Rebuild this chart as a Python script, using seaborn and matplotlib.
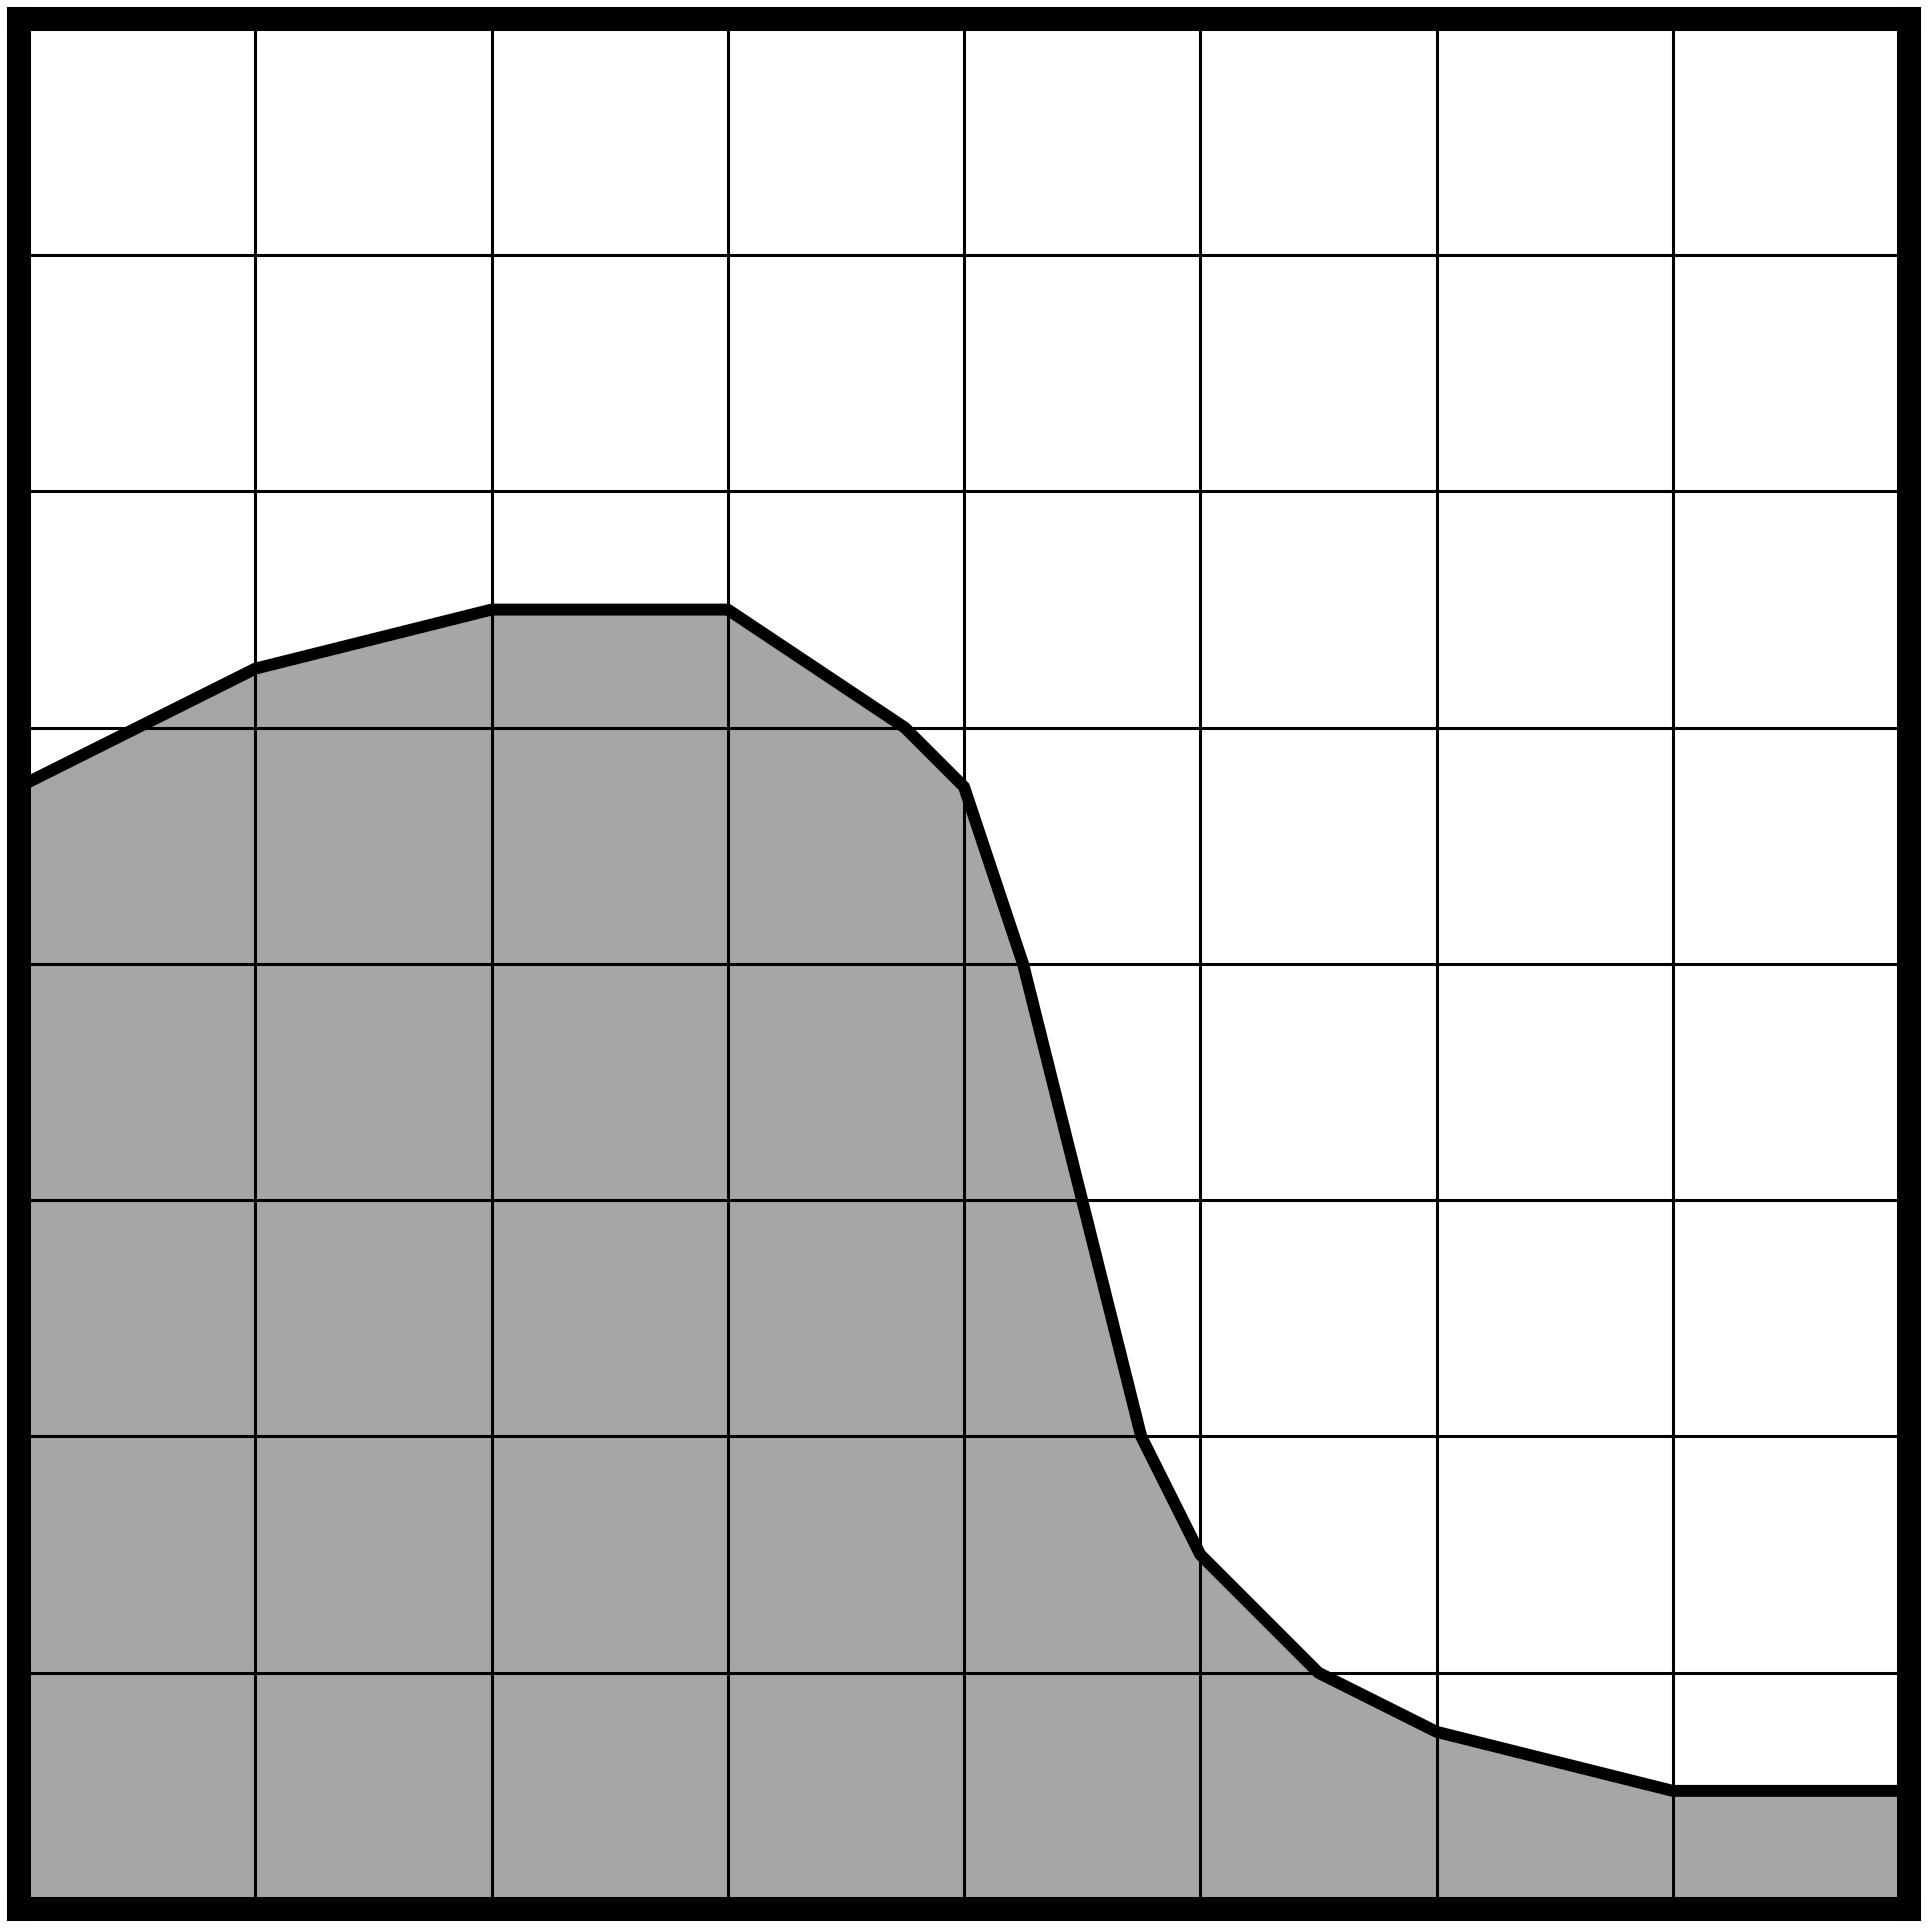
import matplotlib
matplotlib.use('Agg')
import matplotlib.pyplot as plt
import seaborn as sns
import pandas as pd

# points of the outline (8 x 8 cells)
x_vals = [0, 1, 2, 3, 3.75, 4, 4.25, 4.5, 4.75, 5, 5.5, 6, 7, 8]
y_vals = [4.75, 5.25, 5.5, 5.5, 5.0, 4.75, 4.0, 3.0, 2.0, 1.5, 1.0, 0.75, 0.5, 0.5]
grid_ticks = [0, 1, 2, 3, 4, 5, 6, 7, 8]

df = pd.DataFrame({'x': x_vals, 'y': y_vals})

sns.set_style('white')
fig = plt.figure(figsize=(19.29, 19.29), dpi=100)
ax = fig.add_axes([0.00985, 0.01037, 0.9798, 0.9798])

# grey area under the curve
ax.fill_between(df['x'], 0, df['y'], color='#a6a6a6', linewidth=0, zorder=1)

# grid on top of the fill
ax.set_xticks(grid_ticks)
ax.set_yticks(grid_ticks)
ax.grid(True, color='black', linewidth=2.2)
ax.set_axisbelow(False)
for gl in ax.get_xgridlines() + ax.get_ygridlines():
    gl.set_zorder(2)

sns.lineplot(data=df, x='x', y='y', color='black', linewidth=8.6, ax=ax, zorder=3)

ax.set_xlim(0, 8)
ax.set_ylim(0, 8)
ax.set_xlabel('')
ax.set_ylabel('')
ax.tick_params(length=0, labelbottom=False, labelleft=False)

for side in ax.spines.values():
    side.set_visible(True)
    side.set_color('black')
    side.set_linewidth(17.3)
    side.set_zorder(4)

fig.savefig('out.png', dpi=100, facecolor='white')
